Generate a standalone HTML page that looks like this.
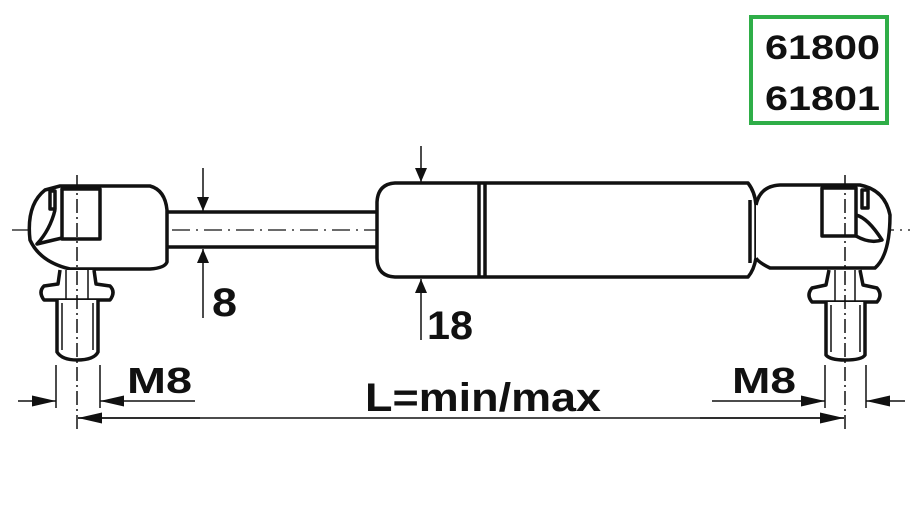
<!DOCTYPE html>
<html><head><meta charset="utf-8"><style>
html,body{margin:0;padding:0;background:#fff;width:920px;height:517px;overflow:hidden}
svg{display:block}
text{font-family:"Liberation Sans",Arial,sans-serif;font-weight:bold;fill:#111}
</style></head><body>
<svg width="920" height="517" viewBox="0 0 920 517" xmlns="http://www.w3.org/2000/svg">
<defs>
<marker id="ar" viewBox="0 0 10 10" refX="10" refY="5" markerWidth="14" markerHeight="12" markerUnits="userSpaceOnUse" orient="auto" preserveAspectRatio="none"><path d="M0,0 L10,5 L0,10z" fill="#111"/></marker>
<marker id="arw" viewBox="0 0 10 10" refX="10" refY="5" markerWidth="24" markerHeight="11" markerUnits="userSpaceOnUse" orient="auto" preserveAspectRatio="none"><path d="M0,0 L10,5 L0,10z" fill="#111"/></marker>
</defs>
<rect x="751" y="17" width="136" height="106" fill="none" stroke="#2fae48" stroke-width="4"/>
<text x="765" y="59" font-size="34" textLength="115" lengthAdjust="spacingAndGlyphs">61800</text>
<text x="765" y="110" font-size="34" textLength="115" lengthAdjust="spacingAndGlyphs">61801</text>

<g fill="none" stroke="#111" stroke-width="3.5" stroke-linejoin="round">
<line x1="12" y1="230" x2="910" y2="230" stroke-width="1.3" stroke-dasharray="18,6,2,6"/>
<path d="M60,186 L150,186 Q165,190 167,210 L167,262 Q165,268 150,269 L70,269 Q40,262 30,240 Q26,205 45,190 Z" fill="#fff"/>
<rect x="50" y="191" width="5" height="18"/>
<rect x="62" y="189" width="38" height="50"/>
<path d="M55,210 Q50,230 37,244 Q45,242 62,238"/>
<line x1="167" y1="212" x2="377" y2="212"/>
<line x1="167" y1="247" x2="377" y2="247"/>
<path d="M395,183 L748,183 Q755,192 756,205 L756,258 Q754,270 748,277 L395,277 Q377,276 377,258 L377,202 Q378,184 395,183 Z" fill="#fff"/>
<line x1="479" y1="184" x2="479" y2="276"/>
<line x1="485" y1="184" x2="485" y2="276"/>
<line x1="750" y1="200" x2="750" y2="263"/>
<path d="M756,205 Q760,186 780,185 L860,185 Q885,190 890,215 Q890,255 875,268 L770,268 Q758,262 756,258" fill="#fff"/>
<rect x="822" y="188" width="34" height="48"/>
<rect x="862" y="190" width="6" height="18"/>
<path d="M856,215 Q868,218 882,240 Q870,244 856,236"/>
<path d="M60,270 L58,284 L44,286 Q38,292 44,300 L110,300 Q116,292 110,286 L96,284 L94,270" fill="#fff"/>
<path d="M57,300 L57,352 Q62,360 77,360 Q94,360 98,352 L98,300" fill="#fff"/>
<line x1="66" y1="270" x2="66" y2="300" stroke-width="1.5"/>
<line x1="88" y1="270" x2="88" y2="300" stroke-width="1.5"/>
<line x1="62" y1="303" x2="62" y2="350" stroke-width="1.5"/>
<line x1="93" y1="303" x2="93" y2="350" stroke-width="1.5"/>
<path d="M829,270 L826,285 L812,288 Q806,295 812,302 L877,302 Q883,295 877,288 L863,285 L860,270" fill="#fff"/>
<path d="M826,302 L826,355 Q830,360 845,360 Q862,360 865,355 L865,302" fill="#fff"/>
<line x1="835" y1="270" x2="835" y2="302" stroke-width="1.5"/>
<line x1="855" y1="270" x2="855" y2="302" stroke-width="1.5"/>
<line x1="831" y1="305" x2="831" y2="352" stroke-width="1.5"/>
<line x1="860" y1="305" x2="860" y2="352" stroke-width="1.5"/>
</g>
<g stroke="#111" stroke-width="1.5" fill="none">
<line x1="77" y1="175" x2="77" y2="430" stroke-dasharray="14,4,2,4"/>
<line x1="845" y1="175" x2="845" y2="430" stroke-dasharray="14,4,2,4"/>
<line x1="56" y1="365" x2="56" y2="408"/>
<line x1="100" y1="365" x2="100" y2="408"/>
<line x1="825" y1="365" x2="825" y2="408"/>
<line x1="866" y1="365" x2="866" y2="408"/>
<line x1="18" y1="401" x2="56" y2="401" marker-end="url(#arw)"/>
<line x1="195" y1="401" x2="100" y2="401" marker-end="url(#arw)"/>
<line x1="712" y1="401" x2="825" y2="401" marker-end="url(#arw)"/>
<line x1="905" y1="401" x2="866" y2="401" marker-end="url(#arw)"/>
<line x1="200" y1="418" x2="78" y2="418" marker-end="url(#arw)"/>
<line x1="700" y1="418" x2="844" y2="418" marker-end="url(#arw)"/>
<line x1="78" y1="418" x2="844" y2="418"/>
<line x1="203" y1="168" x2="203" y2="211" marker-end="url(#ar)"/>
<line x1="203" y1="318" x2="203" y2="249" marker-end="url(#ar)"/>
<line x1="421" y1="146" x2="421" y2="182" marker-end="url(#ar)"/>
<line x1="421" y1="340" x2="421" y2="279" marker-end="url(#ar)"/>
</g>
<text x="212" y="316" font-size="40" textLength="25" lengthAdjust="spacingAndGlyphs">8</text>
<text x="427" y="339" font-size="40" textLength="46" lengthAdjust="spacingAndGlyphs">18</text>
<text x="127" y="393" font-size="36" textLength="65" lengthAdjust="spacingAndGlyphs">M8</text>
<text x="732" y="393" font-size="36" textLength="64" lengthAdjust="spacingAndGlyphs">M8</text>
<text x="365" y="411" font-size="40" textLength="236" lengthAdjust="spacingAndGlyphs">L=min/max</text>
</svg>
</body></html>
